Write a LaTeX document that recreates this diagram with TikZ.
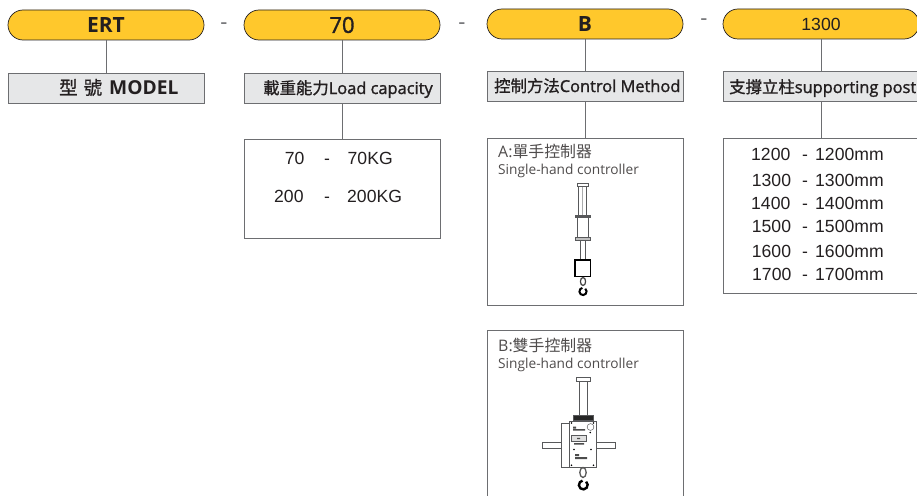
\documentclass[tikz,border=0pt]{standalone}
\usepackage{fontspec}
\setmainfont{Open Sans}
\newfontfamily\arialf{Liberation Sans}
\newfontfamily\cjk{Noto Sans CJK TC}
\newfontfamily\cjksemi[FakeBold=1]{Noto Sans CJK TC}
\newfontfamily\openmed[FakeBold=1.4]{Open Sans}
\definecolor{pillc}{HTML}{FFC82C}
\definecolor{labc}{HTML}{E6E7E8}
\definecolor{linec}{HTML}{6D6E71}
\definecolor{txtc}{HTML}{231F20}
\definecolor{partc}{HTML}{58595B}
\tikzset{
 pill/.style={draw=txtc,line width=0.7pt,fill=pillc,rounded corners=15,minimum width=196,minimum height=30,inner sep=0,text=txtc},
 lab/.style={draw=linec,line width=0.9pt,fill=labc,minimum width=196,minimum height=30,inner sep=0,text=txtc},
 panel/.style={draw=linec,line width=0.9pt,inner sep=0},
 conn/.style={draw=linec,line width=0.9pt},
 txt/.style={inner sep=0,text=txtc,anchor=base west},
 opt/.style={inner sep=0,text=txtc,anchor=base west,font=\arialf\fontsize{17.6}{20}\selectfont},
 dashmark/.style={inner sep=0,text=linec,font=\fontsize{22}{24}\selectfont},
 part/.style={draw=partc,line width=0.6pt,fill=white},
 captxt/.style={txt,text=txtc!80,font=\fontsize{13.7}{15}\selectfont},
 headtxt/.style={txt,text=txtc!80,font=\fontsize{15.9}{17}\selectfont},
 labtxt/.style={txt,font=\fontsize{16.4}{20}\selectfont},
}
\newcommand{\lbl}[2]{{\cjksemi #1}{\openmed #2}}
\begin{document}
\begin{tikzpicture}[x=1pt,y=-1pt]
\useasboundingbox (0,0) rectangle (917,495);
\clip (0,0) rectangle (917,495);
% pills
\node[pill,font=\fontsize{21}{22}\selectfont\bfseries] (p1) at (106,25) {ERT};
\node[pill,font=\fontsize{22}{24}\selectfont\openmed] (p2) at (342,25) {70};
\node[pill,font=\fontsize{21}{22}\selectfont\bfseries] (p3) at (585,24) {B};
\node[pill,font=\arialf\fontsize{17.6}{20}\selectfont] (p4) at (821,24) {1300};
% dashes
\node[dashmark] (d1) at (224,26) {-};
\node[dashmark] (d2) at (462,26) {-};
\node[dashmark] (d3) at (704,22) {-};
% labels
\node[lab] (l1) at (106,88) {};
\node[txt,font=\fontsize{18.5}{20}\selectfont] (l1t) at (59,94.5) {{\cjksemi 型\hspace{6pt}號}\hspace{7pt}{\fontsize{19.2}{20}\selectfont\bfseries MODEL}};
\node[lab] (l2) at (342,88) {};
\node[labtxt] (l2t) at (263,94) {\lbl{載重能力}{Load capacity}};
\node[lab] (l3) at (585,86) {};
\node[labtxt] (l3t) at (494,92) {\lbl{控制方法}{Control Method}};
\node[lab] (l4) at (821,86) {};
\node[labtxt] (l4t) at (729,93) {\lbl{支撐立柱}{supporting post}};
% panels
\node[panel,minimum width=196,minimum height=99] (b2) at (342,188.5) {};
\node[panel,minimum width=196,minimum height=167] (b3) at (585,221.5) {};
\node[panel,minimum width=196,minimum height=155.5] (b4) at (821,215.8) {};
\node[panel,minimum width=196,minimum height=170] (b5) at (585,415) {};
% connectors
\draw[conn] (p1) -- (l1);
\draw[conn] (p2) -- (l2);
\draw[conn] (p3) -- (l3);
\draw[conn] (p4) -- (l4);
\draw[conn] (l2) -- (b2);
\draw[conn] (l3) -- (b3);
\draw[conn] (l4) -- (b4);
% load options
\node[opt] (o1a) at (284.7,164.3) {70};
\node[opt] (o1b) at (324,164.3) {-};
\node[opt] (o1c) at (347.5,164.3) {70KG};
\node[opt] (o2a) at (274,202) {200};
\node[opt] (o2b) at (324,202) {-};
\node[opt] (o2c) at (347,202) {200KG};
% post options
\foreach \n/\y/\xa in {1200/160/751,1300/186/751.7,1400/209/751,1500/232.7/751.7,1600/257/751.7,1700/280.3/752}{
 \node[opt] (n\n) at (\xa,\y) {\n};
 \node[opt] (s\n) at (802,\y) {-};
 \node[opt] (v\n) at (815,\y) {\n mm};
}
% controller A
\node[headtxt] (a1) at (498,157) {A:{\cjk 單手控制器}};
\node[captxt] (a2) at (498,174) {Single-hand controller};
\draw[part] (578.7,186.7) rectangle (586.7,215);
\draw[part,draw=partc!50] (582.7,187) -- (582.7,215);
\draw[part] (577.3,183.3) rectangle (588.7,186.7);
\draw[part] (577.3,217) rectangle (588,237.5);
\draw[part,fill=partc] (575,215) rectangle (590.7,217.5);
\draw[part,fill=black!25] (575,237.3) rectangle (590.7,240.7);
\draw[part] (580.7,240.7) rectangle (585.3,260);
\draw[line width=1.1pt,draw=black,fill=white] (575,260) rectangle (590.7,276.7);
\draw[line width=1.2pt,draw=black!75] (583,281.5) ellipse (2.6 and 4);
\draw[line width=2pt,draw=black] (585.3,288.7) arc[start angle=-50,end angle=260,radius=3.6];
% controller B
\node[headtxt] (c1) at (498,351) {B:{\cjk 雙手控制器}};
\node[captxt] (c2) at (498,368) {Single-hand controller};
\draw[part] (579.3,381.7) rectangle (587.3,415.7);
\draw[part] (576.7,377.3) rectangle (590,381.7);
\draw[part,fill=black!85] (573.5,415.2) rectangle (593,420.7);
\draw[part] (542.3,442.5) rectangle (561,448);
\draw[part] (596,442.5) rectangle (615.3,448);
\draw[part] (561,423.5) rectangle (569.3,467.3);
\draw[part,line width=0.9pt] (569.3,421) rectangle (596,467.3);
\draw[part,line width=0.5pt] (590.5,427) circle (3.4);
\draw[part,line width=1pt,fill=black!12] (571.7,435) rectangle (586.5,441.7);
\fill[black!70] (573,426.5) rectangle (576,428.5) (573,429) rectangle (585,430.5)
 (574,443) rectangle (584,444.7) (575,454) rectangle (579,456) (575,457) rectangle (587,459)
 (577,437.8) rectangle (580,439);
\foreach \q/\r in {571.5/423,593.5/423,571.5/465.3,593.5/465.3,574/449.5,591/449.5,590.3/432.5}{\fill[black] (\q,\r) circle (0.9);}
\draw[line width=1.3pt,draw=black!65] (583,472.5) ellipse (3.2 and 5);
\draw[line width=2.4pt,draw=black] (586.1,481.6) arc[start angle=-50,end angle=260,radius=4.4];
\end{tikzpicture}
\end{document}
